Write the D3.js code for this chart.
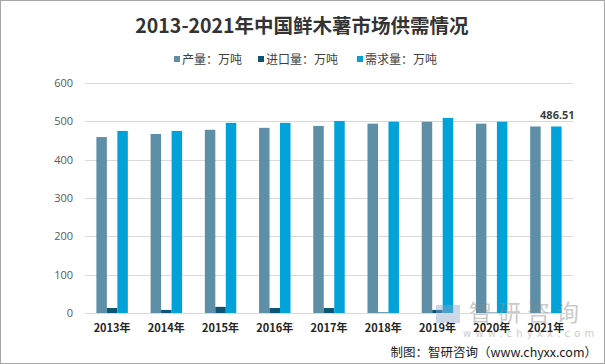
<!DOCTYPE html>
<html>
<head>
<meta charset="utf-8">
<script src="https://cdn.jsdelivr.net/npm/d3@7"></script>
<style>
  body { margin: 0; background: #fff; }
  svg { display: block; }
</style>
</head>
<body>
<svg id="chart" width="605" height="364"></svg>
<script>
// data
const years = ['2013年', '2014年', '2015年', '2016年', '2017年', '2018年', '2019年', '2020年', '2021年'];
const production = [459, 467, 478, 483, 488, 494, 499, 494, 486.51];
const imports = [13, 8, 16, 13, 13, 1.5, 8, 1, 0.5];
const demand = [475, 475, 496, 496, 501, 499, 509, 499, 486.51];
const seriesNames = ['产量：万吨', '进口量：万吨', '需求量：万吨'];
const colors = ['#5e8fa7', '#0c5674', '#00a2da'];
const yTicks = [0, 100, 200, 300, 400, 500, 600];

const svg = d3.select('#chart');
const W = 605, H = 364;
const margin = { top: 83, right: 32, bottom: 51, left: 85 };

svg.append('rect').attr('x', 0.5).attr('y', 0.5).attr('width', W - 1).attr('height', H - 1)
    .attr('fill', '#fff').attr('stroke', '#a6a6a6');

const x = d3.scaleBand().domain(years).range([margin.left, W - margin.right]).paddingInner(0.42).paddingOuter(0.21);
const xs = d3.scaleBand().domain([0, 1, 2]).range([0, x.bandwidth()]);
const y = d3.scaleLinear().domain([0, 600]).range([H - margin.bottom, margin.top]);

// grid
svg.append('g').selectAll('line').data(yTicks).join('line')
    .attr('x1', margin.left).attr('x2', W - margin.right)
    .attr('y1', d => Math.round(y(d)) + 0.5).attr('y2', d => Math.round(y(d)) + 0.5)
    .attr('stroke', '#d9d9d9');

svg.append('g').selectAll('text').data(yTicks).join('text')
    .attr('x', margin.left - 12).attr('y', d => y(d) + 4)
    .attr('text-anchor', 'end')
    .attr('font-family', 'Open Sans, sans-serif').attr('font-size', 11)
    .attr('fill', '#595959')
    .text(d => d);

const series = [production, imports, demand];
series.forEach((vals, i) => {
  svg.append('g').selectAll('rect').data(vals).join('rect')
      .attr('x', (d, j) => x(years[j]) + xs(i))
      .attr('width', xs.bandwidth())
      .attr('y', d => y(d))
      .attr('height', d => y(0) - y(d))
      .attr('fill', colors[i]);
});

// watermark
const wm = svg.append('g').attr('opacity', 0.45);
wm.append('text').attr('x', 469).attr('y', 321)
    .attr('font-family', 'Noto Sans CJK SC').attr('font-size', 23).attr('fill', '#8c8c8c')
    .attr('letter-spacing', 6).text('智研咨询');
wm.append('rect').attr('x', 436).attr('y', 305).attr('width', 24).attr('height', 18).attr('fill', '#8fa8cc');
wm.append('text').attr('x', 463).attr('y', 337)
    .attr('font-family', 'DejaVu Sans').attr('font-size', 10).attr('fill', '#8c8c8c')
    .attr('letter-spacing', 4.2).text('www.chyxx.com');

// bottom axis line
svg.append('line').attr('x1', margin.left).attr('x2', W - margin.right)
    .attr('y1', Math.round(y(0)) + 0.5).attr('y2', Math.round(y(0)) + 0.5).attr('stroke', '#d9d9d9');

svg.append('g').selectAll('text').data(years).join('text')
    .attr('x', d => x(d) + x.bandwidth() / 2).attr('y', y(0) + 19)
    .attr('text-anchor', 'middle')
    .attr('font-family', 'Noto Sans CJK SC, sans-serif').attr('font-size', 11).attr('font-weight', 'bold')
    .attr('fill', '#262626')
    .text(d => d);

// data label on last demand bar
const last = years.length - 1;
svg.append('text')
    .attr('x', x(years[last]) + xs(2) + xs.bandwidth() / 2 + 1)
    .attr('y', y(demand[last]) - 8)
    .attr('text-anchor', 'middle')
    .attr('font-family', 'Open Sans, sans-serif').attr('font-size', 11).attr('font-weight', 'bold')
    .attr('fill', '#404040')
    .text(demand[last].toFixed(2));

// title
svg.append('text').attr('x', 302).attr('y', 33).attr('text-anchor', 'middle')
    .attr('font-family', 'Noto Sans CJK SC, sans-serif').attr('font-size', 19.5).attr('font-weight', 'bold')
    .attr('fill', '#333')
    .text('2013-2021年中国鲜木薯市场供需情况');

// legend
const legendX = [174, 258, 357];
const lg = svg.append('g');
seriesNames.forEach((n, i) => {
  lg.append('rect').attr('x', legendX[i]).attr('y', 56).attr('width', 6).attr('height', 6).attr('fill', colors[i]);
  lg.append('text').attr('x', legendX[i] + 8).attr('y', 63.5)
      .attr('font-family', 'Noto Sans CJK SC, sans-serif').attr('font-size', 12)
      .attr('fill', '#404040').text(n);
});

// source
svg.append('text').attr('x', 597).attr('y', 357).attr('text-anchor', 'end')
    .attr('font-family', 'Noto Sans CJK SC, sans-serif').attr('font-size', 12.5)
    .attr('fill', '#1a1a1a')
    .text('制图：智研咨询（www.chyxx.com）');
</script>
</body>
</html>
